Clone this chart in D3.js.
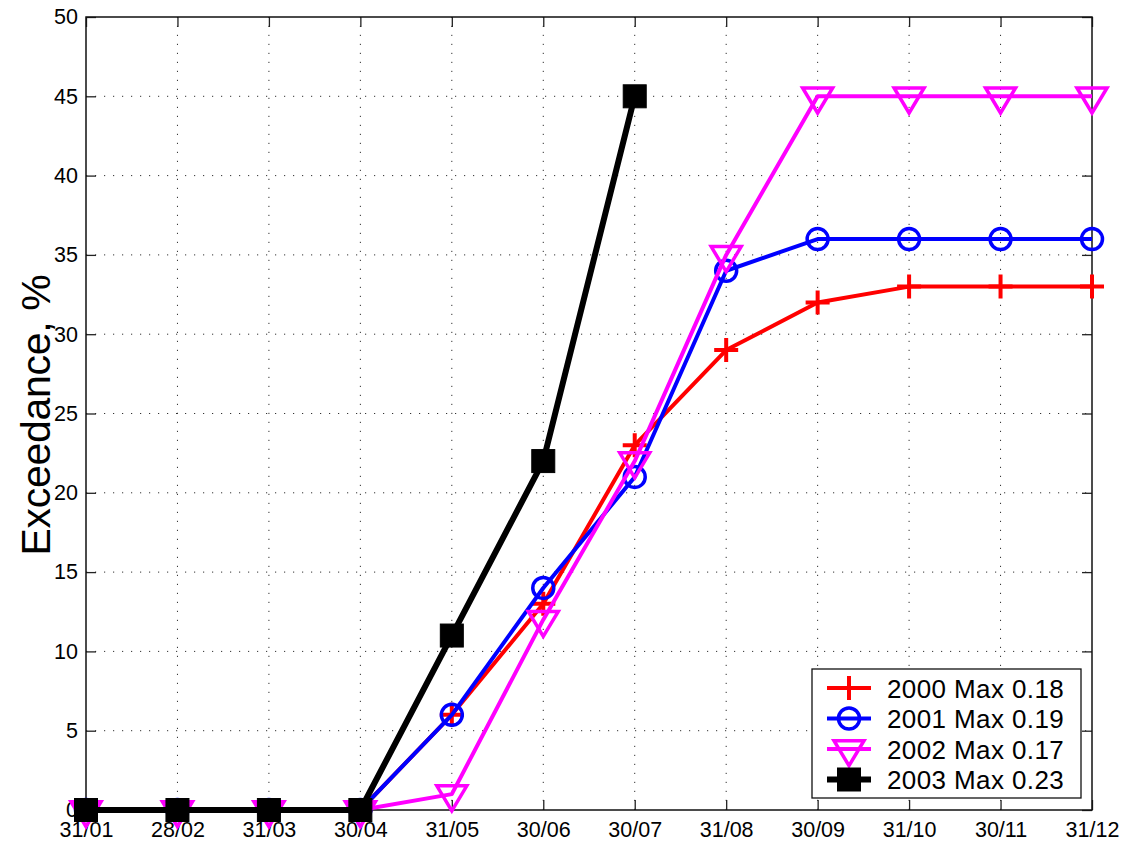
<!DOCTYPE html>
<html><head><meta charset="utf-8">
<script src="https://cdn.jsdelivr.net/npm/d3@7"></script>
<style>
html,body{margin:0;padding:0;background:#fff;}
text{font-family:"Liberation Sans",Arial,Helvetica,sans-serif;}
</style></head>
<body>
<svg id="chart" width="1124" height="844"></svg>
<script>
const categories = ["31/01","28/02","31/03","30/04","31/05","30/06","30/07","31/08","30/09","31/10","30/11","31/12"];
const yTicks = [0,5,10,15,20,25,30,35,40,45,50];
const s2000 = [0,0,0,0,6,13,23,29,32,33,33,33];
const s2001 = [0,0,0,0,6,14,21,34,36,36,36,36];
const s2002 = [0,0,0,0,1,12,22,35,45,45,45,45];
const s2003 = [0,0,0,0,11,22,45];
const seriesNames = ["2000 Max 0.18","2001 Max 0.19","2002 Max 0.17","2003 Max 0.23"];
const yLabel = "Exceedance, %";

const series = [
  {name: seriesNames[0], values: s2000, color: "#ff0000", marker: "plus", lw: 4},
  {name: seriesNames[1], values: s2001, color: "#0000ff", marker: "circle", lw: 4},
  {name: seriesNames[2], values: s2002, color: "#ff00ff", marker: "tri", lw: 4},
  {name: seriesNames[3], values: s2003, color: "#000000", marker: "square", lw: 6}
];

const L = 86, R = 1092, T = 17, B = 810;
const svg = d3.select("#chart");
const x = d3.scalePoint().domain(categories).range([L, R]);
const y = d3.scaleLinear().domain([0, 50]).range([B, T]);

// grid
const grid = svg.append("g");
grid.selectAll("line.gx").data(categories.slice(1, -1)).join("line")
  .attr("x1", d => x(d)).attr("x2", d => x(d)).attr("y1", B).attr("y2", T)
  .attr("stroke", "#333").attr("stroke-width", 1).attr("stroke-dasharray", "1.2,7.8");
grid.selectAll("line.gy").data(yTicks.slice(1, -1)).join("line")
  .attr("y1", d => y(d)).attr("y2", d => y(d)).attr("x1", L).attr("x2", R)
  .attr("stroke", "#333").attr("stroke-width", 1).attr("stroke-dasharray", "1.2,7.8");

// axes
function styleAxis(g, showLabels) {
  g.attr("font-size", 21.5).attr("font-family", '"Liberation Sans",Arial,sans-serif');
  g.select(".domain").remove();
  g.selectAll(".tick line").attr("stroke", "#222").attr("stroke-width", 1.3);
  g.selectAll(".tick text").attr("font-size", 21.5).attr("fill", "#000");
  if (!showLabels) g.selectAll(".tick text").remove();
}
svg.append("g").attr("transform", `translate(${L},0)`)
  .call(d3.axisLeft(y).tickValues(yTicks).tickSize(-10).tickPadding(8))
  .call(styleAxis, true);
svg.append("g").attr("transform", `translate(${R},0)`)
  .call(d3.axisRight(y).tickValues(yTicks).tickSize(-10))
  .call(styleAxis, false);
svg.append("g").attr("transform", `translate(0,${B})`)
  .call(d3.axisBottom(x).tickSize(-10).tickPadding(12))
  .call(styleAxis, true);
svg.append("g").attr("transform", `translate(0,${T})`)
  .call(d3.axisTop(x).tickSize(-10))
  .call(styleAxis, false);
svg.append("rect").attr("x", L).attr("y", T).attr("width", R - L).attr("height", B - T)
  .attr("fill", "none").attr("stroke", "#111").attr("stroke-width", 1.5);

// y label
svg.append("text").attr("transform", `translate(50,415) rotate(-90)`)
  .attr("text-anchor", "middle").attr("font-size", 41).attr("letter-spacing", "-0.3px").text(yLabel);

function drawMarker(g, type, color, cx, cy) {
  if (type === "plus") {
    g.append("path").attr("d", `M${cx-12},${cy}H${cx+12}M${cx},${cy-12}V${cy+12}`)
      .attr("stroke", color).attr("stroke-width", 4).attr("fill", "none");
  } else if (type === "circle") {
    g.append("circle").attr("cx", cx).attr("cy", cy).attr("r", 10.5)
      .attr("stroke", color).attr("stroke-width", 3.5).attr("fill", "none");
  } else if (type === "tri") {
    g.append("path").attr("d", `M${cx-15},${cy-8.3}L${cx+15},${cy-8.3}L${cx},${cy+16.7}Z`)
      .attr("stroke", color).attr("stroke-width", 3.5).attr("fill", "none").attr("stroke-linejoin", "miter");
  } else if (type === "square") {
    g.append("rect").attr("x", cx - 11.5).attr("y", cy - 11.5).attr("width", 23).attr("height", 23)
      .attr("fill", color).attr("stroke", color).attr("stroke-width", 1);
  }
}

const line = d3.line().x((d, i) => x(categories[i])).y(d => y(d));
series.forEach(s => {
  const g = svg.append("g");
  g.append("path").datum(s.values).attr("d", line)
    .attr("fill", "none").attr("stroke", s.color).attr("stroke-width", s.lw).attr("stroke-linejoin", "round");
  s.values.forEach((v, i) => drawMarker(g, s.marker, s.color, x(categories[i]), y(v)));
});

// legend
const lg = svg.append("g");
lg.append("rect").attr("x", 812).attr("y", 669).attr("width", 269).attr("height", 129)
  .attr("fill", "#fff").attr("stroke", "#111").attr("stroke-width", 1.3);
series.forEach((s, i) => {
  const cy = 688 + i * 30.5;
  lg.append("line").attr("x1", 827).attr("x2", 871).attr("y1", cy).attr("y2", cy)
    .attr("stroke", s.color).attr("stroke-width", s.lw);
  drawMarker(lg, s.marker, s.color, 849, cy);
  lg.append("text").attr("x", 887).attr("y", cy + 9.5).attr("font-size", 26).attr("letter-spacing", "0.4px").text(s.name);
});
</script>
</body></html>
